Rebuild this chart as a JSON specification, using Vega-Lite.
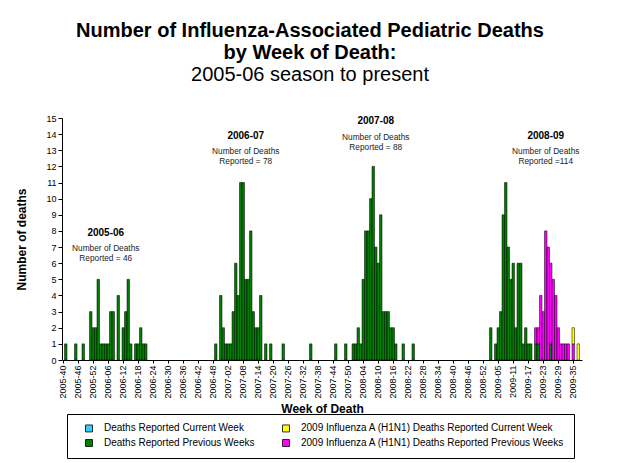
{
  "$schema": "https://vega.github.io/schema/vega-lite/v6.json",
  "width": 520,
  "height": 242,
  "autosize": {"type": "none"},
  "padding": {"left": 62, "top": 118, "right": 44, "bottom": 103},
  "background": "white",
  "title": {
    "text": ["Number of Influenza-Associated Pediatric Deaths", "by Week of Death:"],
    "subtitle": "2005-06 season to present",
    "font": "Liberation Sans",
    "fontSize": 20,
    "fontWeight": "bold",
    "color": "black",
    "lineHeight": 22,
    "subtitleFont": "Liberation Sans",
    "subtitleFontSize": 20,
    "subtitleFontWeight": "normal",
    "subtitleColor": "black",
    "subtitlePadding": 2,
    "anchor": "middle",
    "frame": "group",
    "offset": 29,
    "dx": -12
  },
  "datasets": {
    "deaths": [
      {"week": "2005-41", "series": "Deaths Reported Previous Weeks", "deaths": 1},
      {"week": "2005-45", "series": "Deaths Reported Previous Weeks", "deaths": 1},
      {"week": "2005-48", "series": "Deaths Reported Previous Weeks", "deaths": 1},
      {"week": "2005-51", "series": "Deaths Reported Previous Weeks", "deaths": 3},
      {"week": "2005-52", "series": "Deaths Reported Previous Weeks", "deaths": 2},
      {"week": "2006-01", "series": "Deaths Reported Previous Weeks", "deaths": 2},
      {"week": "2006-02", "series": "Deaths Reported Previous Weeks", "deaths": 5},
      {"week": "2006-03", "series": "Deaths Reported Previous Weeks", "deaths": 1},
      {"week": "2006-04", "series": "Deaths Reported Previous Weeks", "deaths": 1},
      {"week": "2006-05", "series": "Deaths Reported Previous Weeks", "deaths": 1},
      {"week": "2006-06", "series": "Deaths Reported Previous Weeks", "deaths": 1},
      {"week": "2006-07", "series": "Deaths Reported Previous Weeks", "deaths": 3},
      {"week": "2006-08", "series": "Deaths Reported Previous Weeks", "deaths": 3},
      {"week": "2006-10", "series": "Deaths Reported Previous Weeks", "deaths": 4},
      {"week": "2006-12", "series": "Deaths Reported Previous Weeks", "deaths": 2},
      {"week": "2006-13", "series": "Deaths Reported Previous Weeks", "deaths": 3},
      {"week": "2006-14", "series": "Deaths Reported Previous Weeks", "deaths": 5},
      {"week": "2006-15", "series": "Deaths Reported Previous Weeks", "deaths": 1},
      {"week": "2006-17", "series": "Deaths Reported Previous Weeks", "deaths": 1},
      {"week": "2006-18", "series": "Deaths Reported Previous Weeks", "deaths": 1},
      {"week": "2006-19", "series": "Deaths Reported Previous Weeks", "deaths": 2},
      {"week": "2006-20", "series": "Deaths Reported Previous Weeks", "deaths": 1},
      {"week": "2006-21", "series": "Deaths Reported Previous Weeks", "deaths": 1},
      {"week": "2006-49", "series": "Deaths Reported Previous Weeks", "deaths": 1},
      {"week": "2006-51", "series": "Deaths Reported Previous Weeks", "deaths": 4},
      {"week": "2006-52", "series": "Deaths Reported Previous Weeks", "deaths": 2},
      {"week": "2007-01", "series": "Deaths Reported Previous Weeks", "deaths": 1},
      {"week": "2007-02", "series": "Deaths Reported Previous Weeks", "deaths": 1},
      {"week": "2007-03", "series": "Deaths Reported Previous Weeks", "deaths": 1},
      {"week": "2007-04", "series": "Deaths Reported Previous Weeks", "deaths": 3},
      {"week": "2007-05", "series": "Deaths Reported Previous Weeks", "deaths": 6},
      {"week": "2007-06", "series": "Deaths Reported Previous Weeks", "deaths": 4},
      {"week": "2007-07", "series": "Deaths Reported Previous Weeks", "deaths": 11},
      {"week": "2007-08", "series": "Deaths Reported Previous Weeks", "deaths": 11},
      {"week": "2007-09", "series": "Deaths Reported Previous Weeks", "deaths": 5},
      {"week": "2007-10", "series": "Deaths Reported Previous Weeks", "deaths": 5},
      {"week": "2007-11", "series": "Deaths Reported Previous Weeks", "deaths": 8},
      {"week": "2007-12", "series": "Deaths Reported Previous Weeks", "deaths": 3},
      {"week": "2007-13", "series": "Deaths Reported Previous Weeks", "deaths": 2},
      {"week": "2007-14", "series": "Deaths Reported Previous Weeks", "deaths": 2},
      {"week": "2007-15", "series": "Deaths Reported Previous Weeks", "deaths": 4},
      {"week": "2007-17", "series": "Deaths Reported Previous Weeks", "deaths": 1},
      {"week": "2007-19", "series": "Deaths Reported Previous Weeks", "deaths": 1},
      {"week": "2007-24", "series": "Deaths Reported Previous Weeks", "deaths": 1},
      {"week": "2007-35", "series": "Deaths Reported Previous Weeks", "deaths": 1},
      {"week": "2007-45", "series": "Deaths Reported Previous Weeks", "deaths": 1},
      {"week": "2007-49", "series": "Deaths Reported Previous Weeks", "deaths": 1},
      {"week": "2007-52", "series": "Deaths Reported Previous Weeks", "deaths": 1},
      {"week": "2008-01", "series": "Deaths Reported Previous Weeks", "deaths": 1},
      {"week": "2008-02", "series": "Deaths Reported Previous Weeks", "deaths": 2},
      {"week": "2008-03", "series": "Deaths Reported Previous Weeks", "deaths": 1},
      {"week": "2008-04", "series": "Deaths Reported Previous Weeks", "deaths": 5},
      {"week": "2008-05", "series": "Deaths Reported Previous Weeks", "deaths": 8},
      {"week": "2008-06", "series": "Deaths Reported Previous Weeks", "deaths": 8},
      {"week": "2008-07", "series": "Deaths Reported Previous Weeks", "deaths": 10},
      {"week": "2008-08", "series": "Deaths Reported Previous Weeks", "deaths": 12},
      {"week": "2008-09", "series": "Deaths Reported Previous Weeks", "deaths": 7},
      {"week": "2008-10", "series": "Deaths Reported Previous Weeks", "deaths": 6},
      {"week": "2008-11", "series": "Deaths Reported Previous Weeks", "deaths": 9},
      {"week": "2008-12", "series": "Deaths Reported Previous Weeks", "deaths": 3},
      {"week": "2008-13", "series": "Deaths Reported Previous Weeks", "deaths": 3},
      {"week": "2008-14", "series": "Deaths Reported Previous Weeks", "deaths": 3},
      {"week": "2008-15", "series": "Deaths Reported Previous Weeks", "deaths": 2},
      {"week": "2008-16", "series": "Deaths Reported Previous Weeks", "deaths": 2},
      {"week": "2008-17", "series": "Deaths Reported Previous Weeks", "deaths": 1},
      {"week": "2008-20", "series": "Deaths Reported Previous Weeks", "deaths": 1},
      {"week": "2008-24", "series": "Deaths Reported Previous Weeks", "deaths": 1},
      {"week": "2009-02", "series": "Deaths Reported Previous Weeks", "deaths": 2},
      {"week": "2009-04", "series": "Deaths Reported Previous Weeks", "deaths": 1},
      {"week": "2009-05", "series": "Deaths Reported Previous Weeks", "deaths": 2},
      {"week": "2009-06", "series": "Deaths Reported Previous Weeks", "deaths": 3},
      {"week": "2009-07", "series": "Deaths Reported Previous Weeks", "deaths": 9},
      {"week": "2009-08", "series": "Deaths Reported Previous Weeks", "deaths": 11},
      {"week": "2009-09", "series": "Deaths Reported Previous Weeks", "deaths": 7},
      {"week": "2009-10", "series": "Deaths Reported Previous Weeks", "deaths": 5},
      {"week": "2009-11", "series": "Deaths Reported Previous Weeks", "deaths": 6},
      {"week": "2009-12", "series": "Deaths Reported Previous Weeks", "deaths": 2},
      {"week": "2009-13", "series": "Deaths Reported Previous Weeks", "deaths": 6},
      {"week": "2009-14", "series": "Deaths Reported Previous Weeks", "deaths": 6},
      {"week": "2009-15", "series": "Deaths Reported Previous Weeks", "deaths": 1},
      {"week": "2009-16", "series": "Deaths Reported Previous Weeks", "deaths": 2},
      {"week": "2009-17", "series": "Deaths Reported Previous Weeks", "deaths": 1},
      {"week": "2009-18", "series": "Deaths Reported Previous Weeks", "deaths": 1},
      {"week": "2009-20", "series": "Deaths Reported Previous Weeks", "deaths": 1},
      {"week": "2009-21", "series": "Deaths Reported Previous Weeks", "deaths": 1},
      {"week": "2009-26", "series": "Deaths Reported Previous Weeks", "deaths": 1},
      {"week": "2009-20", "series": "2009 Influenza A (H1N1) Deaths Reported Previous Weeks", "deaths": 1},
      {"week": "2009-21", "series": "2009 Influenza A (H1N1) Deaths Reported Previous Weeks", "deaths": 1},
      {"week": "2009-22", "series": "2009 Influenza A (H1N1) Deaths Reported Previous Weeks", "deaths": 4},
      {"week": "2009-23", "series": "2009 Influenza A (H1N1) Deaths Reported Previous Weeks", "deaths": 3},
      {"week": "2009-24", "series": "2009 Influenza A (H1N1) Deaths Reported Previous Weeks", "deaths": 8},
      {"week": "2009-25", "series": "2009 Influenza A (H1N1) Deaths Reported Previous Weeks", "deaths": 7},
      {"week": "2009-26", "series": "2009 Influenza A (H1N1) Deaths Reported Previous Weeks", "deaths": 5},
      {"week": "2009-27", "series": "2009 Influenza A (H1N1) Deaths Reported Previous Weeks", "deaths": 5},
      {"week": "2009-28", "series": "2009 Influenza A (H1N1) Deaths Reported Previous Weeks", "deaths": 4},
      {"week": "2009-29", "series": "2009 Influenza A (H1N1) Deaths Reported Previous Weeks", "deaths": 2},
      {"week": "2009-30", "series": "2009 Influenza A (H1N1) Deaths Reported Previous Weeks", "deaths": 1},
      {"week": "2009-31", "series": "2009 Influenza A (H1N1) Deaths Reported Previous Weeks", "deaths": 1},
      {"week": "2009-32", "series": "2009 Influenza A (H1N1) Deaths Reported Previous Weeks", "deaths": 1},
      {"week": "2009-33", "series": "2009 Influenza A (H1N1) Deaths Reported Previous Weeks", "deaths": 1},
      {"week": "2009-35", "series": "2009 Influenza A (H1N1) Deaths Reported Previous Weeks", "deaths": 1},
      {"week": "2009-35", "series": "2009 Influenza A (H1N1) Deaths Reported Current Week", "deaths": 1},
      {"week": "2009-37", "series": "2009 Influenza A (H1N1) Deaths Reported Current Week", "deaths": 1}
    ],
    "notes": [
      {"week": "2006-05", "y": 7.89, "season": "2005-06", "line1": "Number of Deaths", "line2": "Reported = 46"},
      {"week": "2007-09", "y": 13.9, "season": "2006-07", "line1": "Number of Deaths", "line2": "Reported = 78"},
      {"week": "2008-09", "y": 14.8, "season": "2007-08", "line1": "Number of Deaths", "line2": "Reported = 88"},
      {"week": "2009-24", "y": 13.9, "season": "2008-09", "line1": "Number of Deaths", "line2": "Reported =114"}
    ]
  },
  "encoding": {
    "x": {
      "field": "week",
      "type": "ordinal",
      "title": "Week of Death",
      "scale": {
        "paddingInner": 0,
        "paddingOuter": 0,
        "domain": ["2005-40","2005-41","2005-42","2005-43","2005-44","2005-45","2005-46","2005-47","2005-48","2005-49","2005-50","2005-51","2005-52",
          "2006-01","2006-02","2006-03","2006-04","2006-05","2006-06","2006-07","2006-08","2006-09","2006-10","2006-11","2006-12","2006-13","2006-14","2006-15","2006-16","2006-17","2006-18","2006-19","2006-20","2006-21","2006-22","2006-23","2006-24","2006-25","2006-26","2006-27","2006-28","2006-29","2006-30","2006-31","2006-32","2006-33","2006-34","2006-35","2006-36","2006-37","2006-38","2006-39","2006-40","2006-41","2006-42","2006-43","2006-44","2006-45","2006-46","2006-47","2006-48","2006-49","2006-50","2006-51","2006-52",
          "2007-01","2007-02","2007-03","2007-04","2007-05","2007-06","2007-07","2007-08","2007-09","2007-10","2007-11","2007-12","2007-13","2007-14","2007-15","2007-16","2007-17","2007-18","2007-19","2007-20","2007-21","2007-22","2007-23","2007-24","2007-25","2007-26","2007-27","2007-28","2007-29","2007-30","2007-31","2007-32","2007-33","2007-34","2007-35","2007-36","2007-37","2007-38","2007-39","2007-40","2007-41","2007-42","2007-43","2007-44","2007-45","2007-46","2007-47","2007-48","2007-49","2007-50","2007-51","2007-52",
          "2008-01","2008-02","2008-03","2008-04","2008-05","2008-06","2008-07","2008-08","2008-09","2008-10","2008-11","2008-12","2008-13","2008-14","2008-15","2008-16","2008-17","2008-18","2008-19","2008-20","2008-21","2008-22","2008-23","2008-24","2008-25","2008-26","2008-27","2008-28","2008-29","2008-30","2008-31","2008-32","2008-33","2008-34","2008-35","2008-36","2008-37","2008-38","2008-39","2008-40","2008-41","2008-42","2008-43","2008-44","2008-45","2008-46","2008-47","2008-48","2008-49","2008-50","2008-51","2008-52","2008-53",
          "2009-01","2009-02","2009-03","2009-04","2009-05","2009-06","2009-07","2009-08","2009-09","2009-10","2009-11","2009-12","2009-13","2009-14","2009-15","2009-16","2009-17","2009-18","2009-19","2009-20","2009-21","2009-22","2009-23","2009-24","2009-25","2009-26","2009-27","2009-28","2009-29","2009-30","2009-31","2009-32","2009-33","2009-34","2009-35","2009-36","2009-37","2009-38"]
      },
      "axis": {
        "values": ["2005-40","2005-46","2005-52","2006-06","2006-12","2006-18","2006-24","2006-30","2006-36","2006-42","2006-48","2007-02","2007-08","2007-14","2007-20","2007-26","2007-32","2007-38","2007-44","2007-50","2008-04","2008-10","2008-16","2008-22","2008-28","2008-34","2008-40","2008-46","2008-52","2009-05","2009-11","2009-17","2009-23","2009-29","2009-35"],
        "labelAngle": -90,
        "labelFont": "Liberation Sans",
        "labelFontSize": 9,
        "labelColor": "black",
        "labelPadding": 2,
        "labelOverlap": false,
        "tickSize": 3,
        "tickColor": "black",
        "domainColor": "black",
        "grid": false,
        "titleFont": "Liberation Sans",
        "titleFontSize": 12,
        "titleFontWeight": "bold",
        "titleColor": "black",
        "titlePadding": 5
      }
    }
  },
  "layer": [
    {
      "data": {"name": "deaths"},
      "mark": {"type": "bar", "stroke": "black", "strokeWidth": 0.5},
      "encoding": {
        "y": {
          "field": "deaths",
          "type": "quantitative",
          "stack": "zero",
          "title": "Number of deaths",
          "scale": {"domain": [0, 15], "nice": false},
          "axis": {
            "values": [0,1,2,3,4,5,6,7,8,9,10,11,12,13,14,15],
            "labelFont": "Liberation Sans",
            "labelFontSize": 9,
            "labelColor": "black",
            "tickSize": 4,
            "tickColor": "black",
            "domainColor": "black",
            "grid": false,
            "titleFont": "Liberation Sans",
            "titleFontSize": 12,
            "titleFontWeight": "bold",
            "titleColor": "black",
            "titlePadding": 17
          }
        },
        "color": {
          "field": "series",
          "type": "nominal",
          "scale": {
            "domain": ["Deaths Reported Current Week", "Deaths Reported Previous Weeks", "2009 Influenza A (H1N1) Deaths Reported Current Week", "2009 Influenza A (H1N1) Deaths Reported Previous Weeks"],
            "range": ["#33CCFF", "#008000", "#FFFF00", "#FF00FF"]
          },
          "legend": {
            "title": null,
            "orient": "none",
            "legendX": 5,
            "legendY": 296,
            "columns": 2,
            "symbolType": "square",
            "symbolSize": 49,
            "symbolStrokeColor": "black",
            "symbolStrokeWidth": 0.8,
            "symbolOpacity": 1,
            "symbolOffset": 8,
            "labelFont": "Liberation Sans",
            "labelFontSize": 10,
            "labelColor": "black",
            "labelOffset": 10,
            "labelLimit": 400,
            "columnPadding": 18,
            "rowPadding": 3,
            "padding": 9,
            "strokeColor": "black",
            "fillColor": "white"
          }
        },
        "order": {"field": "series", "sort": "descending"}
      }
    },
    {
      "data": {"name": "notes"},
      "mark": {"type": "text", "font": "Liberation Sans", "fontSize": 10, "fontWeight": "bold", "color": "black", "baseline": "middle", "align": "center"},
      "encoding": {
        "y": {
          "field": "y",
          "type": "quantitative",
          "title": "Number of deaths",
          "scale": {"domain": [0, 15], "nice": false},
          "axis": {
            "values": [0,1,2,3,4,5,6,7,8,9,10,11,12,13,14,15],
            "labelFont": "Liberation Sans",
            "labelFontSize": 9,
            "labelColor": "black",
            "tickSize": 4,
            "tickColor": "black",
            "domainColor": "black",
            "grid": false,
            "titleFont": "Liberation Sans",
            "titleFontSize": 12,
            "titleFontWeight": "bold",
            "titleColor": "black",
            "titlePadding": 17
          }
        },
        "text": {"field": "season"}
      }
    },
    {
      "data": {"name": "notes"},
      "mark": {"type": "text", "font": "Liberation Sans", "fontSize": 8.3, "color": "#222222", "baseline": "middle", "align": "center", "dy": 16.5},
      "encoding": {
        "y": {
          "field": "y",
          "type": "quantitative",
          "title": "Number of deaths",
          "scale": {"domain": [0, 15], "nice": false},
          "axis": {
            "values": [0,1,2,3,4,5,6,7,8,9,10,11,12,13,14,15],
            "labelFont": "Liberation Sans",
            "labelFontSize": 9,
            "labelColor": "black",
            "tickSize": 4,
            "tickColor": "black",
            "domainColor": "black",
            "grid": false,
            "titleFont": "Liberation Sans",
            "titleFontSize": 12,
            "titleFontWeight": "bold",
            "titleColor": "black",
            "titlePadding": 17
          }
        },
        "text": {"field": "line1"}
      }
    },
    {
      "data": {"name": "notes"},
      "mark": {"type": "text", "font": "Liberation Sans", "fontSize": 8.3, "color": "#222222", "baseline": "middle", "align": "center", "dy": 26.5},
      "encoding": {
        "y": {
          "field": "y",
          "type": "quantitative",
          "title": "Number of deaths",
          "scale": {"domain": [0, 15], "nice": false},
          "axis": {
            "values": [0,1,2,3,4,5,6,7,8,9,10,11,12,13,14,15],
            "labelFont": "Liberation Sans",
            "labelFontSize": 9,
            "labelColor": "black",
            "tickSize": 4,
            "tickColor": "black",
            "domainColor": "black",
            "grid": false,
            "titleFont": "Liberation Sans",
            "titleFontSize": 12,
            "titleFontWeight": "bold",
            "titleColor": "black",
            "titlePadding": 17
          }
        },
        "text": {"field": "line2"}
      }
    }
  ],
  "config": {
    "view": {"stroke": null},
    "font": "Liberation Sans"
  }
}
